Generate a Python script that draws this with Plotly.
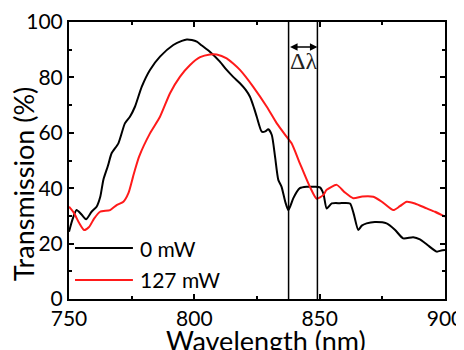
import plotly.graph_objects as go

# ---- data ----
wl_0mw = [750, 751.5, 753, 755, 756.8, 759, 761, 762.5, 763.7, 765.5, 767, 769.7, 772.3, 774.3,
          776.3, 779, 782.3, 786.3, 791.6, 795, 797, 799, 801, 803, 806.2, 810.2, 812.9, 815.5,
          818.2, 820.5, 822.2, 823.8, 824.9, 826.9, 828.3, 829.5, 830.9, 832.2, 833.5, 834.8,
          836.3, 837.5, 838.5, 839.5, 842.1, 844.8, 848, 850.1, 851.5, 852.8, 854.8, 858, 862.1,
          863.5, 865.4, 866.8, 868.7, 872, 876.7, 880, 883.3, 887.3, 890, 893, 896.7, 898.5, 900]
tr_0mw = [24.3, 29, 32.1, 30.5, 28.8, 31.5, 33.3, 37, 43, 48, 52.6, 56.2, 63.4, 65.8,
          69.4, 76.6, 82.7, 87.5, 91.7, 93.2, 93.7, 93.5, 92.9, 91.5, 89.3, 85.7, 82.7, 80.2,
          77.9, 75.5, 73, 69, 65.8, 60.4, 60.5, 61.3, 59.2, 51.4, 43, 40.5,
          35, 32.1, 34.0, 36.4, 40, 40.5, 40.5, 40.3, 38, 32.7, 34.5, 34.6, 34.5,
          31, 24.9, 26.5, 27.3, 27.8, 27.3, 25, 21.9, 22.3, 21.5, 19.5, 17.1, 17.5, 17.7]

wl_127mw = [750, 752, 754, 756, 758, 760, 762.4, 766.4, 769, 771.7, 773.7, 775.5, 776.3, 778,
            782.3, 786.3, 790.3, 794.3, 798.3, 802.3, 806.2, 808.9, 812.9, 815.5, 818.2, 823.5,
            828.9, 832.9, 836.8, 838.8, 842.1, 846.1, 848.8, 851.4, 852.8, 856.8, 860, 863.4,
            867, 871.4, 875, 879.4, 882, 884.7, 888, 892.7, 896, 900]
tr_127mw = [33.3, 31, 27.5, 24.9, 26, 29, 31.5, 32.1, 33.9, 35.1, 38.2, 44, 46.6, 51.5,
            59.8, 65.8, 74.3, 80.3, 84.5, 87.3, 88.3, 88.3, 86.9, 85, 82.7, 76.6,
            69.4, 63.4, 58.6, 56.2, 49, 40.5, 36.2, 37.5, 39.4, 41.2, 38.5, 36.4,
            37, 36.9, 35, 32.1, 33.5, 35.1, 34.5, 32.7, 31.5, 29.7]

series_names = ["0 mW", "127 mW"]
series_colors = ["#000000", "#ff1a1a"]

delta_edges = [837.6, 849.1]   # wavelengths of the two vertical markers (nm)
delta_arrow_level = 91.0       # transmission level of the Δλ arrow (%)
delta_label_level = 85.8

x_ticks = [750, 800, 850, 900]
y_ticks = [0, 20, 40, 60, 80, 100]

FONT = "Lato"
TXT = "#000000"

fig = go.Figure()
fig.add_trace(go.Scatter(x=wl_0mw, y=tr_0mw, mode="lines", name=series_names[0],
                         line=dict(color=series_colors[0], width=2, shape="spline", smoothing=0.6),
                         showlegend=False))
fig.add_trace(go.Scatter(x=wl_127mw, y=tr_127mw, mode="lines", name=series_names[1],
                         line=dict(color=series_colors[1], width=2, shape="spline", smoothing=0.6),
                         showlegend=False))

# vertical markers
for xe in delta_edges:
    fig.add_shape(type="line", xref="x", yref="paper", x0=xe, x1=xe, y0=0, y1=1,
                  line=dict(color="black", width=1.5))

# Δλ double arrow
fig.add_annotation(x=delta_edges[1], y=delta_arrow_level, ax=delta_edges[0], ay=delta_arrow_level,
                   xref="x", yref="y", axref="x", ayref="y", text="", showarrow=True,
                   arrowhead=2, startarrowhead=2, arrowside="end+start", arrowsize=1,
                   arrowwidth=1.5, arrowcolor="black", standoff=0, startstandoff=0)
fig.add_annotation(x=(delta_edges[0] + delta_edges[1]) / 2, y=delta_label_level, xref="x", yref="y",
                   text="Δλ", showarrow=False,
                   font=dict(family="Liberation Serif", size=24, color="#222"))

# legend (drawn as key lines + labels)
legend_y = [0.184, 0.069]
for name, col, ly in zip(series_names, series_colors, legend_y):
    fig.add_shape(type="line", xref="paper", yref="paper", x0=0.016, x1=0.170, y0=ly, y1=ly,
                  line=dict(color=col, width=2))
    fig.add_annotation(x=0.183, y=ly, xref="paper", yref="paper", text=name, showarrow=False,
                       xanchor="left", yanchor="middle", font=dict(family=FONT, size=21, color=TXT))

# axis titles
fig.add_annotation(x=0.523, y=-0.15, xref="paper", yref="paper", text="Wavelength (nm)",
                   showarrow=False, xanchor="center", yanchor="middle",
                   font=dict(family=FONT, size=27, color=TXT))
fig.add_annotation(x=-0.12, y=0.417, xref="paper", yref="paper", text="Transmission (%)",
                   showarrow=False, xanchor="center", yanchor="middle", textangle=-90,
                   font=dict(family=FONT, size=27, color=TXT))

axis_common = dict(showgrid=False, zeroline=False, showline=True, linecolor="black", linewidth=2,
                   mirror="allticks", ticks="inside", ticklen=5, tickwidth=1.5, tickcolor="black",
                   automargin=False,
                   tickfont=dict(family=FONT, size=21, color=TXT))
fig.update_xaxes(range=[750, 900], tickvals=x_ticks,
                 minor=dict(dtick=25, tick0=750, ticks="inside", ticklen=3, tickwidth=1.5, tickcolor="black"),
                 **axis_common)
fig.update_yaxes(range=[0, 100], tickvals=y_ticks,
                 minor=dict(dtick=10, tick0=0, ticks="inside", ticklen=3, tickwidth=1.5, tickcolor="black"),
                 **axis_common)

# the page body adds an 8px offset, so the figure is sized to the remaining window
fig.update_layout(width=456, height=342, autosize=False,
                  margin=dict(l=61, r=19, t=14, b=51),
                  plot_bgcolor="white", paper_bgcolor="white",
                  font=dict(family=FONT))

fig.write_html("out.html")
